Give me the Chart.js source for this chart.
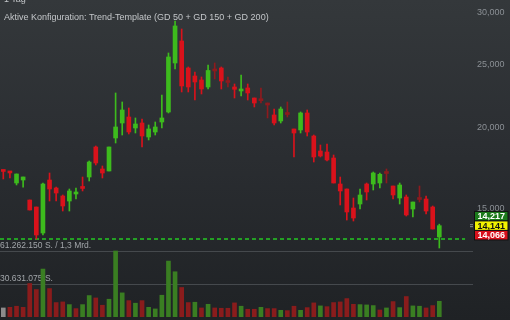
<!DOCTYPE html>
<html><head><meta charset="utf-8">
<script src="https://cdn.jsdelivr.net/npm/chart.js@4.4.0/dist/chart.umd.min.js"></script>
<style>
html,body{margin:0;padding:0;width:510px;height:320px;overflow:hidden;
  background:linear-gradient(#34383b 0%,#2b2e32 45%,#1f2225 100%);
  font-family:"Liberation Sans",Arial,sans-serif;}
#wrap{position:relative;width:510px;height:320px;}
canvas{position:absolute;left:0;top:0;}
.t{position:absolute;left:4px;color:#c3c6c9;font-size:9px;white-space:nowrap;}
</style></head><body>
<div id="wrap"><canvas id="c" width="510" height="320"></canvas>
<div class="t" style="top:-6px">1 Tag</div>
<div class="t" style="top:12px">Aktive Konfiguration: Trend-Template (GD 50 + GD 150 + GD 200)</div>
</div>
<script>
// ---- data (daily candles, oldest first) ----
const open  = [17160,17100,16445,16620,15485,15107,13779,16620,16157,15706,15430,15818,16170,16797,18679,17280,17158,19282,20333,20769,19977,20333,19351,19695,20405,21140,25140,27174,24699,24010,23673,23094,24439,24699,23465,23094,22770,23013,22212,22002,21669,20918,20478,20953,19907,19836,21066,19419,18415,18350,17965,16387,16100,15053,15268,16387,16387,16445,17007,16272,15595,15650,15000,15512,15540,15107,13587];
const high  = [17220,17100,16980,16800,15485,15107,16445,17037,16214,15762,16100,16157,16797,17776,18744,17465,18679,22610,21901,21441,20697,20622,20190,20405,22450,26046,29166,28353,24788,24353,23926,24963,25140,24788,23926,23340,24096,23340,22212,23013,21823,21365,21517,21901,19907,21140,21290,19487,18811,18877,18157,16797,16100,15595,16100,16445,17097,17037,17280,16272,16445,15762,15376,16272,15706,15160,14217];
const low   = [16680,16740,16330,16210,14947,13490,13683,15430,15430,14894,14894,15540,15987,16562,17526,16738,17158,18944,19487,19557,19626,18679,19147,19487,19977,21066,24612,22690,22690,22055,22530,22931,23757,22931,23094,22212,22371,22055,21517,21823,20697,20190,20333,20769,18029,19626,19419,17712,18029,17776,16445,15214,14427,14376,15000,15485,16043,16157,16445,15540,15268,14633,14581,15376,14738,13975,13067];
const close = [17130,17040,16977,16800,14947,13683,16387,16100,15873,15160,15987,15930,16130,17712,17650,17037,18679,20048,21290,19695,20261,19419,19907,20048,20697,25679,28656,23176,23094,23506,22931,24482,24439,23589,23465,22905,22931,22610,21823,22002,21669,20333,21365,20953,19626,21066,19695,18029,18093,17839,16445,15987,14842,14530,15762,15930,17037,16960,17007,15762,16329,14686,15376,15512,14894,13975,14141];
const volume = [8400000,9000000,10000000,9000000,31100000,25500000,44500000,26400000,13400000,14000000,
  11500000,7800000,11500000,19900000,17700000,10900000,16500000,61262150,22400000,15200000,
  12800000,15200000,9000000,7500000,20200000,51900000,42000000,27400000,13400000,13700000,
  8400000,11800000,8400000,8100000,8100000,13100000,10000000,7200000,7200000,9000000,
  7800000,7800000,6200000,5900000,10000000,6200000,8700000,13100000,10300000,9600000,
  13400000,14000000,17100000,11800000,11500000,11200000,10600000,6500000,8400000,14300000,
  8700000,19000000,10300000,10000000,8400000,10600000,14600000];
const priceTicks = [15000,20000,25000,30000];
const volTicks = [30631075,61262150];
const volTickLabels = ['30.631.075 S.','61.262.150 S. / 1,3 Mrd.'];
const supportLevel = 13490;
const quoteBoxes = [14217,14141,14066]; // top, last, bottom
// ----------------------------------------------

const GREEN='#3dbb1d', RED='#d9121b', DOJI='#8e1a1e';
const VGREEN='#3a7e22', VRED='#8a1c1c', VGRAY='#8c8c8c';
const candleColor = close.map((c,i)=> c>open[i]?GREEN:(c<open[i]?RED:DOJI));
const volColor = close.map((c,i)=> i===0?VGRAY:(c>=close[i-1]?VGREEN:VRED));
const idx = close.map((_,i)=>i);
const lastSlot = 69.9;

const quotePlugin = {
  id:'quotes',
  afterDraw(chart){
    const ctx=chart.ctx, y=chart.scales.y;
    const yc=y.getPixelForValue(quoteBoxes[1]);
    const h=9.5, x0=475, w=32.5;
    const specs=[[quoteBoxes[0],'#1b7a1b','#ffffff',yc-h*1.5],[quoteBoxes[1],'#f2f200','#111111',yc-h*0.5],[quoteBoxes[2],'#d8101c','#ffffff',yc+h*0.5]];
    ctx.save();
    ctx.fillStyle='#8a8f94';
    ctx.fillRect(470,yc-1.5,3,1);ctx.fillRect(470,yc+0.5,3,1);
    ctx.font='bold 9px "Liberation Sans", Arial, sans-serif';
    ctx.textAlign='center';ctx.textBaseline='middle';
    for(const [v,bg,fg,top] of specs){
      ctx.fillStyle='#111';ctx.fillRect(x0-1,top-0.5,w+2,h+1);
      ctx.fillStyle=bg;ctx.fillRect(x0,top+0.5,w,h-1);
      ctx.fillStyle=fg;ctx.fillText(v.toLocaleString('en-US'),x0+w/2,top+h/2+0.5);
    }
    ctx.restore();
  }
};

new Chart(document.getElementById('c'),{
  data:{
    datasets:[
      {type:'bar',label:'body',order:0,yAxisID:'y',grouped:false,barThickness:4,minBarLength:2,
       data:idx.map(i=>({x:i,y:[open[i],close[i]]})),backgroundColor:candleColor,borderWidth:0},
      {type:'bar',label:'wick',order:1,yAxisID:'y',grouped:false,barThickness:1,
       data:idx.map(i=>({x:i,y:[low[i],high[i]]})),backgroundColor:candleColor,borderWidth:0},
      {type:'line',label:'level',order:2,yAxisID:'y',data:[{x:-0.5,y:supportLevel},{x:lastSlot,y:supportLevel}],
       borderColor:'#24a024',borderWidth:2,borderDash:[4,3],pointRadius:0},
      {type:'bar',label:'vol',order:3,yAxisID:'v',grouped:false,barThickness:4,
       data:idx.map(i=>({x:i,y:volume[i]})),backgroundColor:volColor,borderWidth:0}
    ]
  },
  options:{
    responsive:false,animation:false,devicePixelRatio:1,events:[],
    layout:{padding:{left:0,right:0,top:0,bottom:3}},
    plugins:{legend:{display:false},tooltip:{enabled:false}},
    scales:{
      x:{type:'linear',display:false,offset:false,min:-0.5,max:71.1},
      y:{type:'logarithmic',position:'right',min:10238,max:31412,
         grid:{display:false,drawTicks:false},border:{display:false},
         afterBuildTicks:s=>{s.ticks=priceTicks.map(v=>({value:v}));},
         afterFit:s=>{s.width=37;s.paddingTop=0;s.paddingBottom=0;},
         ticks:{color:'#8b9095',font:{size:9,family:'"Liberation Sans", Arial, sans-serif'},padding:4,crossAlign:'near',
           callback:v=>Number(v).toLocaleString('en-US')}},
      v:{type:'linear',position:'left',min:0,max:294245000,
         grid:{color:'#45494d',lineWidth:1,drawTicks:false},border:{display:false},
         afterBuildTicks:s=>{s.ticks=volTicks.map(v=>({value:v}));},
         afterFit:s=>{s.width=0;s.paddingTop=0;s.paddingBottom=0;},
         ticks:{mirror:true,padding:0,labelOffset:-5,color:'#a2a6aa',font:{size:8.5,family:'"Liberation Sans", Arial, sans-serif'},
           callback:(v,i)=>volTickLabels[i]}}
    }
  },
  plugins:[quotePlugin]
});
</script>
</body></html>
